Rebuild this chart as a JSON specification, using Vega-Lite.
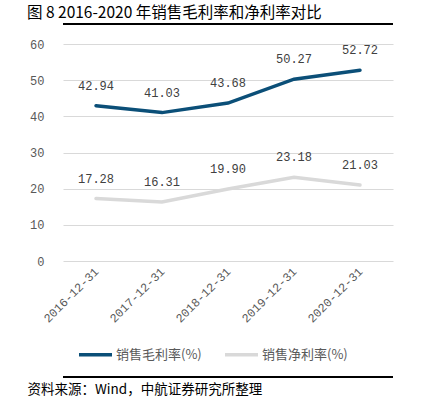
{
  "$schema": "https://vega.github.io/schema/vega-lite/v6.json",
  "width": 330,
  "height": 217,
  "autosize": "none",
  "padding": {"left": 63, "top": 44, "right": 34, "bottom": 137},
  "background": "white",
  "config": {"view": {"stroke": null}},
  "title": {
    "text": "图 8 2016-2020 年销售毛利率和净利率对比",
    "anchor": "start",
    "frame": "bounds",
    "dx": 0,
    "dy": -2,
    "offset": 0,
    "font": "Noto Sans CJK SC",
    "fontSize": 15.5,
    "fontWeight": "normal",
    "color": "#000000"
  },
  "data": {
    "values": [
      {"date": "2016-12-31", "series": "销售毛利率(%)", "value": 42.94},
      {"date": "2017-12-31", "series": "销售毛利率(%)", "value": 41.03},
      {"date": "2018-12-31", "series": "销售毛利率(%)", "value": 43.68},
      {"date": "2019-12-31", "series": "销售毛利率(%)", "value": 50.27},
      {"date": "2020-12-31", "series": "销售毛利率(%)", "value": 52.72},
      {"date": "2016-12-31", "series": "销售净利率(%)", "value": 17.28},
      {"date": "2017-12-31", "series": "销售净利率(%)", "value": 16.31},
      {"date": "2018-12-31", "series": "销售净利率(%)", "value": 19.90},
      {"date": "2019-12-31", "series": "销售净利率(%)", "value": 23.18},
      {"date": "2020-12-31", "series": "销售净利率(%)", "value": 21.03}
    ]
  },
  "encoding": {
    "x": {
      "field": "date", "type": "ordinal",
      "scale": {"type": "point", "padding": 0.5},
      "axis": {
        "labelAngle": -45, "labelAlign": "right", "labelBaseline": "middle",
        "labelFont": "Liberation Mono", "labelFontSize": 12, "labelColor": "#595959",
        "labelPadding": 8, "ticks": false, "domain": false, "grid": false,
        "title": "资料来源：Wind，中航证券研究所整理",
        "titleFont": "Noto Sans CJK SC", "titleFontSize": 13.5, "titleFontWeight": "normal",
        "titleColor": "#000000", "titleX": -36, "titleY": 128,
        "titleAlign": "left", "titleBaseline": "middle", "titleAngle": 0
      }
    },
    "y": {
      "field": "value", "type": "quantitative",
      "scale": {"domain": [0, 60], "nice": false},
      "axis": {
        "values": [0, 10, 20, 30, 40, 50, 60], "title": null, "labelOverlap": false,
        "labelFont": "Liberation Mono", "labelFontSize": 12, "labelColor": "#595959",
        "labelPadding": 19, "ticks": false, "domain": false,
        "grid": true, "gridColor": "#d9d9d9", "gridWidth": 1
      }
    }
  },
  "layer": [
    {
      "mark": {"type": "rule", "color": "#000000", "strokeWidth": 1},
      "encoding": {"x": null, "y": {"datum": 65.5, "type": "quantitative"}}
    },
    {
      "mark": {"type": "rule", "color": "#000000", "strokeWidth": 1},
      "encoding": {"x": null, "y": {"datum": -32.1, "type": "quantitative"}}
    },
    {
      "mark": {"type": "line", "strokeWidth": 3.5, "strokeCap": "round"},
      "encoding": {
        "color": {
          "field": "series", "type": "nominal",
          "scale": {"domain": ["销售毛利率(%)", "销售净利率(%)"], "range": ["#0b4f78", "#d9d9d9"]},
          "legend": {
            "title": null, "orient": "none", "direction": "horizontal",
            "legendX": 14, "legendY": 292,
            "symbolType": "stroke", "symbolSize": 1089, "symbolStrokeWidth": 3.5,
            "labelFont": "Noto Sans CJK SC", "labelFontSize": 13, "labelColor": "#595959",
            "labelOffset": 2, "columnPadding": 16, "labelLimit": 200
          }
        }
      }
    },
    {
      "mark": {"type": "text", "dy": -20, "font": "Liberation Mono", "fontSize": 12, "color": "#404040"},
      "encoding": {
        "text": {"field": "value", "type": "quantitative", "format": ".2f"}
      }
    }
  ]
}
